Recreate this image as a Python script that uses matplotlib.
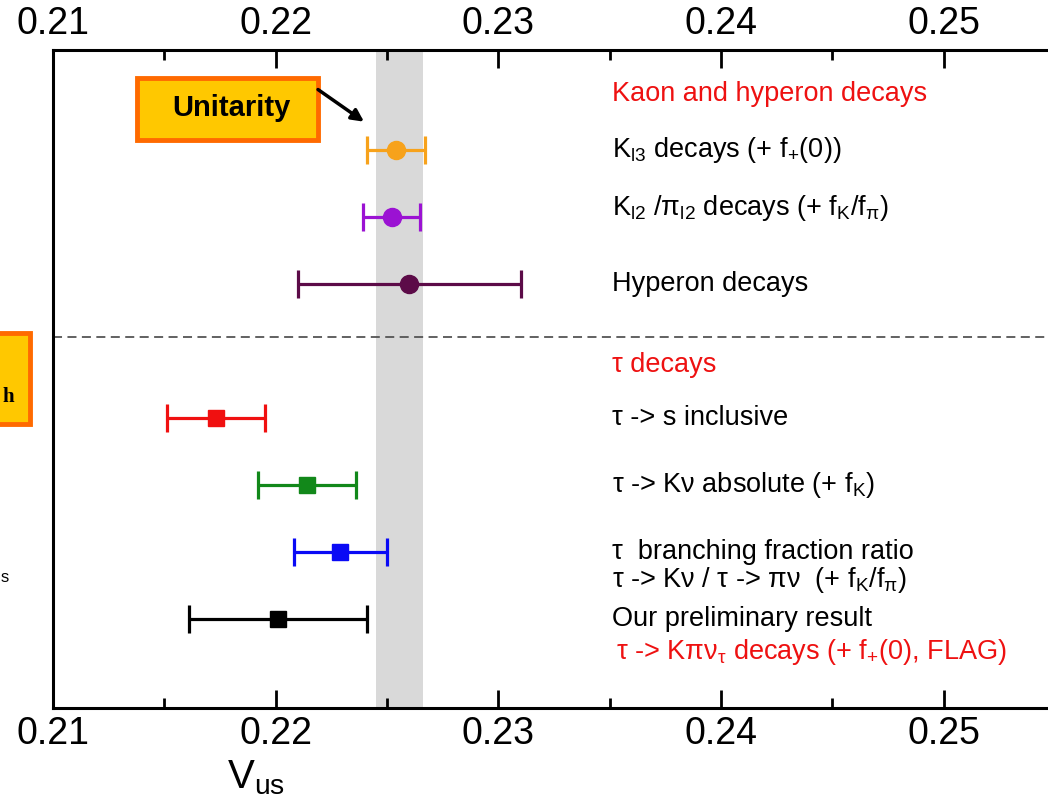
import matplotlib
matplotlib.use("Agg")
import matplotlib.pyplot as plt
from matplotlib.patches import Rectangle

plt.rcParams['font.family'] = ['Liberation Sans', 'DejaVu Sans']
plt.rcParams['mathtext.fontset'] = 'custom'
plt.rcParams['mathtext.rm'] = 'Liberation Sans'
plt.rcParams['mathtext.it'] = 'Liberation Sans:italic'
plt.rcParams['mathtext.bf'] = 'Liberation Sans:bold'

# ---- data ----
rows = [0, 1, 2, 4, 5, 6, 7]
values = [0.2254, 0.2252, 0.2260, 0.2173, 0.2214, 0.2229, 0.2201]
err_low = [0.2241, 0.2239, 0.2210, 0.2151, 0.2192, 0.2208, 0.2161]
err_high = [0.2267, 0.2265, 0.2310, 0.2195, 0.2236, 0.2250, 0.2241]
colors = ['#f7a21b', '#9b12d3', '#5c0b48', '#f01010', '#12881a', '#0a0af5', '#000000']
markers = ['o', 'o', 'o', 's', 's', 's', 's']
unitarity_band = (0.2245, 0.2266)

labels = [
    (r'K$_{\mathregular{l3}}$ decays (+ f$_{\mathregular{+}}$(0))', 0.0, 'black'),
    (r'K$_{\mathregular{l2}}$ /π$_{\mathregular{l2}}$ decays (+ f$_{\mathregular{K}}$/f$_{\mathregular{π}}$)', 0.87, 'black'),
    ('Hyperon decays', 2.0, 'black'),
    ('τ -> s inclusive', 4.0, 'black'),
    (r'τ -> Kν absolute (+ f$_{\mathregular{K}}$)', 5.0, 'black'),
    ('τ  branching fraction ratio', 6.0, 'black'),
    (r'τ -> Kν / τ -> πν  (+ f$_{\mathregular{K}}$/f$_{\mathregular{π}}$)', 6.42, 'black'),
    ('Our preliminary result', 7.0, 'black'),
]
headers = [
    ('Kaon and hyperon decays', -0.84, '#ee1111'),
    ('τ decays', 3.21, '#ee1111'),
]
red_label = (r'τ -> Kπν$_{\mathregular{τ}}$ decays (+ f$_{\mathregular{+}}$(0), FLAG)', 7.49, '#ee1111')

xticks_major = [0.21, 0.22, 0.23, 0.24, 0.25]
xticks_minor = [0.215, 0.225, 0.235, 0.245]

fig = plt.figure(figsize=(10.48, 8.06), dpi=100)
ax = fig.add_axes([53/1048, 1 - 708/806, 1 - 53/1048, (708 - 50)/806])
ax.set_xlim(0.21, 0.21 + 995/22270)
ax.set_ylim(8.33, -1.49)

ax.axvspan(*unitarity_band, color='#d9d9d9', zorder=0, lw=0)
ax.axhline(2.8, color='#555555', ls=(0, (5, 3)), lw=1.3, zorder=1)

for r, v, lo, hi, c, m in zip(rows, values, err_low, err_high, colors, markers):
    ax.errorbar([v], [r], xerr=[[v - lo], [hi - v]], fmt=m, color=c,
                ms=13 if m == 'o' else 11.5, elinewidth=2.3, capsize=10,
                capthick=2.3, zorder=3)

tx = 0.2351
for txt, y, c in labels + headers:
    ax.text(tx, y, txt, color=c, fontsize=19.5, va='center', ha='left')
ax.text(tx + 0.0002, red_label[1], red_label[0], color=red_label[2],
        fontsize=19.5, va='center', ha='left')

# Unitarity box + arrow
x0 = 0.21 + (137 - 53)/22270
x1 = 0.21 + (318 - 53)/22270
ax.add_patch(Rectangle((x0, -1.075), x1 - x0, 0.926, facecolor='#ffc800',
                       edgecolor='#ff6a00', lw=3.5, zorder=5, clip_on=False))
ax.text(0.21 + (231 - 53)/22270, -0.62, 'Unitarity', fontsize=21, fontweight='bold',
        ha='center', va='center', zorder=6)
ax.annotate('', xy=(0.21 + (364 - 53)/22270, -0.42), xytext=(x1, -0.9),
            arrowprops=dict(arrowstyle='-|>', color='black', lw=2.5,
                            mutation_scale=18, shrinkA=0, shrinkB=0), zorder=6)

# ticks
ax.set_xticks(xticks_major)
ax.set_xticklabels(['0.21', '0.22', '0.23', '0.24', '0.25'])
ax.set_xticks(xticks_minor, minor=True)
ax.tick_params(axis='x', which='major', direction='in', length=13, width=2,
               top=True, bottom=True, labeltop=True, labelbottom=True,
               labelsize=27, pad=6)
ax.tick_params(axis='x', which='minor', direction='in', length=7, width=2,
               top=True, bottom=True)
ax.set_yticks([])
for s in ['left', 'top', 'bottom']:
    ax.spines[s].set_linewidth(2.2)
ax.spines['right'].set_visible(False)

fig.text(227/1048, 1 - 788/806, r'$\mathregular{V_{us}}$', fontsize=29,
         ha='left', va='baseline')

# partial box cut at the left edge
fig.patches.append(Rectangle((-0.05, 1 - 424/806), 0.05 + 30/1048, 91/806,
                             transform=fig.transFigure, facecolor='#ffc800',
                             edgecolor='#ff6a00', lw=3.5, zorder=5))
fig.text(14/1048, 1 - 397/806, 'h', fontsize=15, fontweight='bold',
         family='Liberation Serif', ha='right', va='center', zorder=6)
fig.text(1/1048, 1 - 578/806, 's', fontsize=12, ha='left', va='center')

fig.savefig('out.png', dpi=100)
